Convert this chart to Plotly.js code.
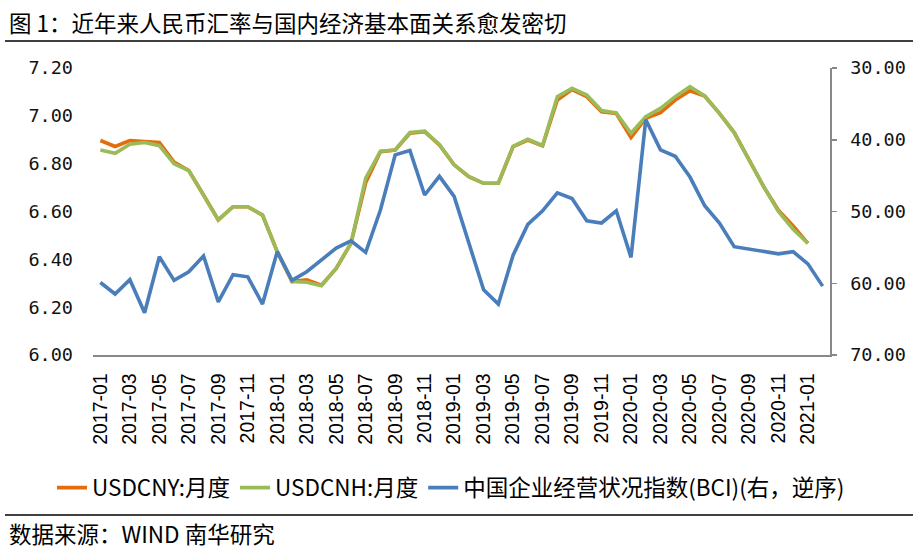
<!DOCTYPE html>
<html>
<head>
<meta charset="utf-8">
<script src="https://cdn.plot.ly/plotly-3.0.1.min.js"></script>
<style>
html,body{margin:0;padding:0;background:#fff;}
#chart{width:918px;height:559px;}
</style>
</head>
<body>
<div id="chart"></div>
<script>
var months = ["2017-01","2017-02","2017-03","2017-04","2017-05","2017-06","2017-07","2017-08","2017-09","2017-10","2017-11","2017-12",
"2018-01","2018-02","2018-03","2018-04","2018-05","2018-06","2018-07","2018-08","2018-09","2018-10","2018-11","2018-12",
"2019-01","2019-02","2019-03","2019-04","2019-05","2019-06","2019-07","2019-08","2019-09","2019-10","2019-11","2019-12",
"2020-01","2020-02","2020-03","2020-04","2020-05","2020-06","2020-07","2020-08","2020-09","2020-10","2020-11","2020-12",
"2021-01","2021-02"];

var usdcny = [6.897,6.872,6.897,6.893,6.889,6.807,6.771,6.669,6.565,6.620,6.620,6.585,
6.432,6.307,6.314,6.292,6.362,6.467,6.720,6.850,6.857,6.927,6.934,6.878,
6.795,6.746,6.718,6.718,6.871,6.899,6.874,7.066,7.110,7.080,7.017,7.010,
6.909,6.990,7.013,7.066,7.105,7.083,7.010,6.930,6.815,6.704,6.605,6.540,
6.467];

var usdcnh = [6.857,6.843,6.881,6.889,6.875,6.800,6.771,6.669,6.565,6.620,6.620,6.585,
6.432,6.307,6.304,6.290,6.362,6.467,6.740,6.852,6.857,6.930,6.936,6.880,
6.795,6.746,6.718,6.718,6.873,6.902,6.876,7.080,7.115,7.087,7.022,7.012,
6.927,6.996,7.031,7.080,7.122,7.083,7.010,6.930,6.815,6.704,6.600,6.526,
6.467];

var bci = [59.9,61.5,59.5,64.1,56.3,59.6,58.4,56.2,62.6,58.8,59.1,62.9,
55.6,59.6,58.4,56.7,55.1,54.1,55.7,49.8,42.1,41.5,47.7,45.1,
47.9,54.4,60.9,62.9,56.1,51.8,49.9,47.4,48.2,51.3,51.6,49.9,
56.4,37.2,41.4,42.3,45.2,49.2,51.6,54.9,55.2,55.5,55.9,55.6,
57.3,60.4];

var leftTicks = [6.0,6.2,6.4,6.6,6.8,7.0,7.2];
var rightTicks = [30,40,50,60,70];

var names = ["USDCNY:月度","USDCNH:月度","中国企业经营状况指数(BCI)(右，逆序)"];
var titleText = "图 1：近年来人民币汇率与国内经济基本面关系愈发密切";
var sourceText = "数据来源：WIND 南华研究";

var xTickVals = months.filter(function(m, i){ return i % 2 === 0 && i < 49; });

var cjk = "Noto Sans CJK SC, sans-serif";
var mono = "DejaVu Sans Mono, monospace";

var traces = [
  {x: months, y: usdcny, name: names[0], type: "scatter", mode: "lines",
   line: {color: "#E46C0A", width: 3.6}, yaxis: "y"},
  {x: months, y: usdcnh, name: names[1], type: "scatter", mode: "lines",
   line: {color: "#9BBB59", width: 3.6}, yaxis: "y"},
  {x: months, y: bci, name: names[2], type: "scatter", mode: "lines",
   line: {color: "#4A7EBB", width: 3.6}, yaxis: "y2"}
];

// plot area pixels: left 93, right 830, top 68, bottom 355
var L = 93, R = 830, T = 68, B = 355, W = 918, H = 559;
function px(x){ return (x - L) / (R - L); }
function py(y){ return (B - y) / (B - T); }

var layout = {
  width: W, height: H,
  margin: {l: L, r: W - R, t: T, b: H - B, autoexpand: false},
  paper_bgcolor: "#fff", plot_bgcolor: "#fff",
  showlegend: true,
  xaxis: {
    type: "category", range: [-0.5, 49.5],
    tickmode: "array", tickvals: xTickVals, ticktext: xTickVals,
    tickangle: -90, showgrid: false, zeroline: false,
    showline: true, linecolor: "#888", linewidth: 1.5,
    ticks: "", ticklabelstandoff: 9,
    tickfont: {family: "Liberation Sans, Arial, sans-serif", size: 19.5, color: "#000"}
  },
  yaxis: {
    range: [6.0, 7.2], tickmode: "array", tickvals: leftTicks,
    tickformat: ".2f", showgrid: false, zeroline: false, showline: false,
    ticks: "", ticklabelstandoff: 19,
    tickfont: {family: mono, size: 18.5, color: "#111"}
  },
  yaxis2: {
    overlaying: "y", side: "right", range: [70, 30],
    tickmode: "array", tickvals: rightTicks, tickformat: ".2f",
    showgrid: false, zeroline: false, showline: true, linecolor: "#888", linewidth: 1.5,
    ticks: "outside", ticklen: 5, tickcolor: "#888", tickwidth: 1.5, ticklabelstandoff: 10,
    tickfont: {family: mono, size: 18.5, color: "#111"}
  },
  legend: {
    orientation: "h", x: px(52), xanchor: "left", y: py(488), yanchor: "middle",
    font: {family: cjk, size: 22.5, color: "#000"},
    itemwidth: 30, tracegroupgap: 0, bgcolor: "rgba(0,0,0,0)"
  },
  annotations: [
    {xref: "paper", yref: "paper", x: px(7), y: py(22), xanchor: "left", yanchor: "middle",
     text: titleText, showarrow: false, font: {family: cjk, size: 22.5, color: "#000"}},
    {xref: "paper", yref: "paper", x: px(7), y: py(533), xanchor: "left", yanchor: "middle",
     text: sourceText, showarrow: false, font: {family: cjk, size: 22.5, color: "#000"}}
  ],
  shapes: [
    {type: "line", xref: "paper", yref: "paper", x0: px(5), x1: px(913), y0: py(41), y1: py(41),
     line: {color: "#000", width: 1.5}},
    {type: "line", xref: "paper", yref: "paper", x0: px(5), x1: px(913), y0: py(515), y1: py(515),
     line: {color: "#000", width: 1.5}}
  ]
};

Plotly.newPlot("chart", traces, layout, {displayModeBar: false, staticPlot: true});
</script>
</body>
</html>
